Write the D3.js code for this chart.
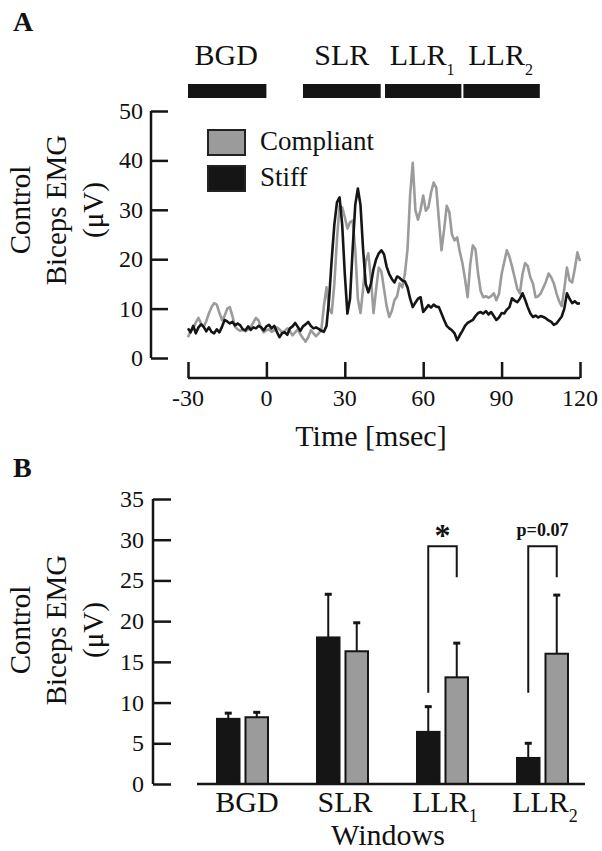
<!DOCTYPE html>
<html><head><meta charset="utf-8">
<script src="https://cdn.jsdelivr.net/npm/d3@7"></script>
<style>
body{margin:0;background:#fff}
text{font-family:"Liberation Serif","Times New Roman",Times,serif;fill:#111}
</style>
</head><body>
<svg id="c" width="602" height="851"></svg>
<script>
// ---------- Panel A data ----------
const sampleTimes = d3.range(-30, 121, 1); // ms, 1 ms sampling
const stiffTrace = [
6.0,5.2,6.5,5.0,6.2,6.8,6.3,5.4,6.2,5.3,
5.0,5.8,5.2,6.3,7.7,7.4,7.0,7.3,6.6,7.0,
6.6,5.8,5.6,6.4,5.7,6.2,6.0,6.5,6.2,5.6,
6.4,6.7,6.0,6.5,5.3,4.2,5.0,5.2,4.7,6.0,
6.4,7.1,6.3,5.5,6.4,6.8,7.3,6.5,6.0,6.2,
5.9,5.5,5.3,6.5,12,20,27,31.5,32.5,27,
17,9,12,22,31,34.3,31,22,15,13.3,
15,18,20,21.2,21.8,21,18.5,17,16,15.3,
16.5,16.2,15.7,15.5,14.3,12,10.3,11.2,12.0,12.3,
9.3,10.0,10.7,10.2,10.8,10.4,10.3,9.0,7.7,6.5,
6.0,5.6,5.0,3.6,4.6,5.5,6.5,7.1,7.4,7.7,
8.5,9.1,9.3,9.0,9.5,8.8,9.3,8.5,7.7,8.2,
9.1,9.0,9.8,10.3,12.1,11.6,11.3,12.0,13.1,11.8,
10.3,9.0,8.3,8.6,8.2,8.5,8.3,8.0,7.6,7.3,
6.7,7.0,7.7,8.4,10.0,13.1,12.0,11.1,11.5,11.0,
11.1];
const compliantTrace = [
4.2,5.5,6.0,7.2,8.1,7.0,6.3,7.5,9.0,10.3,
11.1,10.8,9.2,7.7,8.5,10.0,10.3,8.5,6.3,5.8,
5.5,5.7,5.4,5.8,6.2,7.2,8.1,7.6,6.0,5.2,
5.6,5.8,5.3,5.6,6.2,5.8,5.2,5.5,6.0,5.4,
4.6,5.2,5.8,4.8,4.0,3.3,4.2,5.6,5.0,4.4,
5.0,5.6,10.5,14.3,10.0,9.1,15,24,30.8,30.5,
28.5,26.2,27.5,27.8,22,12,9.1,14,19.5,21.2,
16,9.1,14,18.3,17.5,14,10.5,8.3,9.5,11.7,
12.5,15.1,14.3,17.1,22,33,39.5,30,28,30,
32.9,29.8,30.5,33.5,35.5,34.5,28,21.8,26,30.8,
29.5,25,23.8,24.4,21.5,19.2,16,12.3,19,22.8,
22,17.1,13.5,12.3,12.5,12.2,12.5,13.1,11.7,13,
17,19.4,21.8,20.5,18.5,16.3,14,13.1,17,19.2,
18.6,16.3,15.1,12.3,12.5,13.1,14.3,15.5,17.1,16.3,
15.1,13.1,11.5,10.5,14,18.3,15.7,15.3,18,21.4,
19.6];
const xTicksA = [-30, 0, 30, 60, 90, 120];
const yTicksA = [0, 10, 20, 30, 40, 50];
const windowLabels = ["BGD", "SLR", "LLR", "LLR"];
const windowSubs = ["", "", "1", "2"];
const windowStart = [-30, 14, 45, 75];
const windowEnd = [0, 44.5, 75, 105];
const legendNames = ["Compliant", "Stiff"];

// ---------- Panel B data ----------
const categories = ["BGD", "SLR", "LLR", "LLR"];
const categorySubs = ["", "", "1", "2"];
const categoryKeys = ["BGD", "SLR", "LLR1", "LLR2"];
const stiffMeans = [8.0, 18.0, 6.4, 3.2];
const stiffErr = [0.7, 5.3, 3.1, 1.8];
const compliantMeans = [8.2, 16.3, 13.1, 16.0];
const compliantErr = [0.6, 3.5, 4.2, 7.2];
const yTicksB = [0, 5, 10, 15, 20, 25, 30, 35];
const bracketKeys = ["LLR1", "LLR2"];
const bracketLeftLow = [11.2, 11.2];
const bracketTop = [29.2, 29.2];
const bracketRightLow = [25.4, 25.4];
const bracketLabels = ["*", "p=0.07"];

// ---------- styles ----------
const BLACK = "#151515", GRAY = "#9b9b9b";
const svg = d3.select("#c");

// ================= Panel A =================
const xA = d3.scaleLinear().domain([-30, 120]).range([188, 580]);
const yA = d3.scaleLinear().domain([0, 50]).range([358, 111]);

svg.append("text").attr("x", 13).attr("y", 31).attr("font-size", 28).attr("font-weight", "bold").text("A");

// window bars + labels
const wg = svg.append("g");
windowLabels.forEach((lab, i) => {
  wg.append("rect")
    .attr("x", xA(windowStart[i]) + (i > 1 ? 1 : 0))
    .attr("width", xA(windowEnd[i]) - xA(windowStart[i]) - (i > 0 ? 2 : 0))
    .attr("y", 84).attr("height", 14).attr("fill", BLACK);
  const t = wg.append("text")
    .attr("x", (xA(windowStart[i]) + xA(windowEnd[i])) / 2 - 1)
    .attr("y", 65).attr("font-size", 30).attr("text-anchor", "middle");
  t.append("tspan").text(lab);
  if (windowSubs[i]) t.append("tspan").attr("font-size", 16).attr("dy", 10).text(windowSubs[i]);
});

// y axis A
const yAxisA = d3.axisRight(yA).tickValues(yTicksA).tickSize(17).tickFormat("");
const gyA = svg.append("g").attr("transform", "translate(151,0)").call(yAxisA);
gyA.select(".domain").attr("d", `M0,${yA(50)}V${yA(0)}`);
gyA.selectAll("line,path").attr("stroke", BLACK).attr("stroke-width", 2.5);
svg.append("g").selectAll("text").data(yTicksA).join("text")
  .attr("x", 143).attr("y", d => yA(d) + 8).attr("text-anchor", "end").attr("font-size", 24).text(d => d);

// x axis A
const xAxisA = d3.axisTop(xA).tickValues(xTicksA).tickSize(16).tickFormat("");
const gxA = svg.append("g").attr("transform", "translate(0,378)").call(xAxisA);
gxA.select(".domain").attr("d", `M${xA(-30)},0H${xA(120)}`);
gxA.selectAll("line,path").attr("stroke", BLACK).attr("stroke-width", 2.5);
svg.append("g").selectAll("text").data(xTicksA).join("text")
  .attr("x", d => xA(d)).attr("y", 406).attr("text-anchor", "middle").attr("font-size", 24).text(d => d);
svg.append("text").attr("x", 371).attr("y", 446).attr("text-anchor", "middle").attr("font-size", 30).text("Time [msec]");

// y label
function yLabel(cy) {
  const lines = ["Control", "Biceps EMG", "(μV)"];
  const bx = [30, 66, 103];
  lines.forEach((l, i) => {
    svg.append("text").attr("transform", `translate(${bx[i]},${cy}) rotate(-90)`)
      .attr("text-anchor", "middle").attr("font-size", 29).text(l);
  });
}
yLabel(210);

// traces
const line = d3.line().x((d, i) => xA(sampleTimes[i])).y(d => yA(d));
svg.append("path").datum(compliantTrace).attr("d", line).attr("fill", "none")
  .attr("stroke", GRAY).attr("stroke-width", 2.6).attr("stroke-linejoin", "round");
svg.append("path").datum(stiffTrace).attr("d", line).attr("fill", "none")
  .attr("stroke", BLACK).attr("stroke-width", 2.6).attr("stroke-linejoin", "round");

// legend
const legFill = [GRAY, BLACK];
legendNames.forEach((n, i) => {
  svg.append("rect").attr("x", 208).attr("y", 130 + i * 36).attr("width", 37).attr("height", 25)
    .attr("fill", legFill[i]).attr("stroke", "#222").attr("stroke-width", 2);
  svg.append("text").attr("x", 260).attr("y", 150 + i * 36).attr("font-size", 27).text(n);
});

// ================= Panel B =================
svg.append("text").attr("x", 13).attr("y", 477).attr("font-size", 28).attr("font-weight", "bold").text("B");
const yB = d3.scaleLinear().domain([0, 35]).range([784, 499]);
const xB = d3.scaleBand().domain(categoryKeys).range([192, 592]);
const inner = d3.scaleBand().domain(["Stiff", "Compliant"]).range([-25, 26]).paddingInner(0.21);

const yAxisB = d3.axisRight(yB).tickValues(yTicksB).tickSize(18).tickFormat("");
const gyB = svg.append("g").attr("transform", "translate(153,0)").call(yAxisB);
gyB.select(".domain").attr("d", `M0,${yB(35)}V${yB(0)}`);
gyB.selectAll("line,path").attr("stroke", BLACK).attr("stroke-width", 2.5);
svg.append("g").selectAll("text").data(yTicksB).join("text")
  .attr("x", 144).attr("y", d => yB(d) + 8).attr("text-anchor", "end").attr("font-size", 24).text(d => d);

yLabel(630);

const series = [
  {key: "Stiff", means: stiffMeans, err: stiffErr, fill: BLACK},
  {key: "Compliant", means: compliantMeans, err: compliantErr, fill: GRAY}
];
series.forEach(s => {
  categoryKeys.forEach((c, i) => {
    const cx = xB(c) + xB.bandwidth() / 2;
    const bx = cx + inner(s.key);
    const bw = inner.bandwidth();
    const mid = bx + bw / 2;
    svg.append("line").attr("x1", mid).attr("x2", mid).attr("y1", yB(s.means[i])).attr("y2", yB(s.means[i] + s.err[i]))
      .attr("stroke", BLACK).attr("stroke-width", 2);
    svg.append("line").attr("x1", mid - 3.5).attr("x2", mid + 3.5).attr("y1", yB(s.means[i] + s.err[i])).attr("y2", yB(s.means[i] + s.err[i]))
      .attr("stroke", BLACK).attr("stroke-width", 3);
    svg.append("rect").attr("x", bx).attr("y", yB(s.means[i])).attr("width", bw).attr("height", yB(0) - yB(s.means[i]))
      .attr("fill", s.fill).attr("stroke", BLACK).attr("stroke-width", 2);
  });
});

// baseline
svg.append("line").attr("x1", 197).attr("x2", 585).attr("y1", yB(0)).attr("y2", yB(0)).attr("stroke", BLACK).attr("stroke-width", 2.5);

// category labels
categories.forEach((c, i) => {
  const cx = xB(categoryKeys[i]) + xB.bandwidth() / 2 + (i === 0 ? 5 : 3);
  const t = svg.append("text").attr("x", cx).attr("y", 812).attr("text-anchor", "middle").attr("font-size", 30);
  t.append("tspan").text(c);
  if (categorySubs[i]) t.append("tspan").attr("font-size", 18).attr("dy", 10).text(categorySubs[i]);
});
svg.append("text").attr("x", 388).attr("y", 845).attr("text-anchor", "middle").attr("font-size", 30).text("Windows");

// significance brackets
bracketKeys.forEach((k, i) => {
  const cx = xB(k) + xB.bandwidth() / 2;
  const lx = cx + inner("Stiff") + inner.bandwidth() / 2;
  const rx = cx + inner("Compliant") + inner.bandwidth() / 2;
  svg.append("path")
    .attr("d", `M${lx},${yB(bracketLeftLow[i])}V${yB(bracketTop[i])}H${rx}V${yB(bracketRightLow[i])}`)
    .attr("fill", "none").attr("stroke", BLACK).attr("stroke-width", 2);
  const isStar = bracketLabels[i] === "*";
  svg.append("text").attr("x", (lx + rx) / 2).attr("y", isStar ? 546 : 536)
    .attr("text-anchor", "middle").attr("font-weight", "bold").attr("font-size", isStar ? 32 : 18)
    .text(bracketLabels[i]);
});
</script>
</body></html>
